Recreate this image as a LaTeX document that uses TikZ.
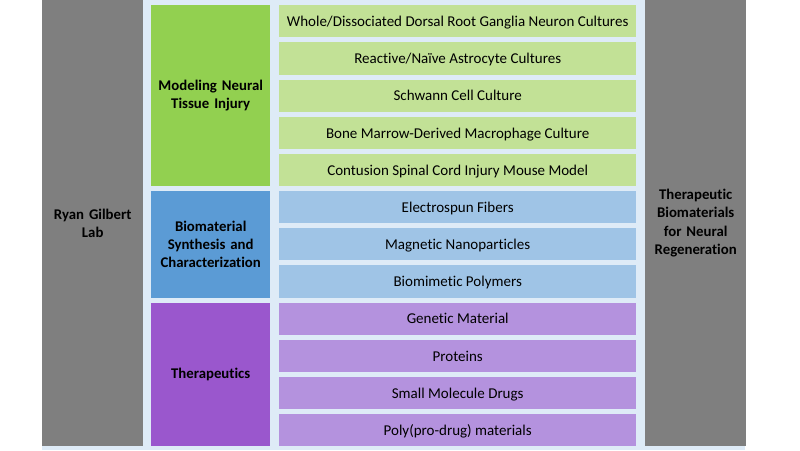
\documentclass[tikz,border=0pt]{standalone}
\usepackage{fontspec}
\setmainfont[Ligatures=NoCommon]{Carlito}

\definecolor{bgblue}{RGB}{222,235,247}
\definecolor{sidegray}{RGB}{127,127,127}
\definecolor{catgreen}{RGB}{146,208,80}
\definecolor{itemgreen}{RGB}{194,225,150}
\definecolor{catblue}{RGB}{91,155,213}
\definecolor{itemblue}{RGB}{159,196,230}
\definecolor{catpurple}{RGB}{154,87,205}
\definecolor{itempurple}{RGB}{180,146,222}

\tikzset{
  sidebox/.style={fill=sidegray, anchor=north west, inner sep=0pt,
    minimum width=101pt, minimum height=446pt, text width=98pt, align=center,
    font=\bfseries\fontsize{14.8}{18.5}\selectfont},
  catbox/.style={anchor=north west, inner sep=0pt, minimum width=119pt,
    text width=117pt, align=center, font=\bfseries\fontsize{14.8}{18}\selectfont},
  itembox/.style={anchor=north west, inner sep=0pt, minimum width=357pt,
    minimum height=32.2pt, text height=10.5pt, text depth=0pt, align=center,
    font=\fontsize{15}{17}\selectfont},
}

\begin{document}
\begin{tikzpicture}[x=1pt,y=-1pt]
            \useasboundingbox (0,0) rectangle (800,450);
            \fill[bgblue] (42,0) rectangle (745,450);

            \node[sidebox] (lab) at (42,0) {Ryan Gilbert\\Lab};
            \node[sidebox] (goal) at (645,0) {Therapeutic\\Biomaterials\\for Neural\\Regeneration};

            \node[catbox, fill=catgreen, minimum height=180.8pt] (injury) at (151,5) {Modeling Neural\\Tissue Injury};
            \node[catbox, fill=catblue, minimum height=106.5pt] (synthesis) at (151,190.8) {Biomaterial\\Synthesis and\\Characterization};
            \node[catbox, fill=catpurple, minimum height=143.7pt] (therapeutics) at (151,302.3) {Therapeutics};

            \node[itembox, fill=itemgreen] (drg) at (279,5) {Whole/Dissociated Dorsal Root Ganglia Neuron Cultures};
            \node[itembox, fill=itemgreen] (astro) at (279,42.17) {Reactive/Naïve Astrocyte Cultures};
            \node[itembox, fill=itemgreen] (schwann) at (279,79.33) {Schwann Cell Culture};
            \node[itembox, fill=itemgreen] (macro) at (279,116.5) {Bone Marrow-Derived Macrophage Culture};
            \node[itembox, fill=itemgreen] (mouse) at (279,153.67) {Contusion Spinal Cord Injury Mouse Model};

            \node[itembox, fill=itemblue] (fibers) at (279,190.83) {Electrospun Fibers};
            \node[itembox, fill=itemblue] (nano) at (279,228) {Magnetic Nanoparticles};
            \node[itembox, fill=itemblue] (poly) at (279,265.17) {Biomimetic Polymers};

            \node[itembox, fill=itempurple] (genetic) at (279,302.33) {Genetic Material};
            \node[itembox, fill=itempurple] (proteins) at (279,339.5) {Proteins};
            \node[itembox, fill=itempurple] (drugs) at (279,376.67) {Small Molecule Drugs};
            \node[itembox, fill=itempurple] (prodrug) at (279,413.83) {Poly(pro-drug) materials};

        \end{tikzpicture}
\end{document}
